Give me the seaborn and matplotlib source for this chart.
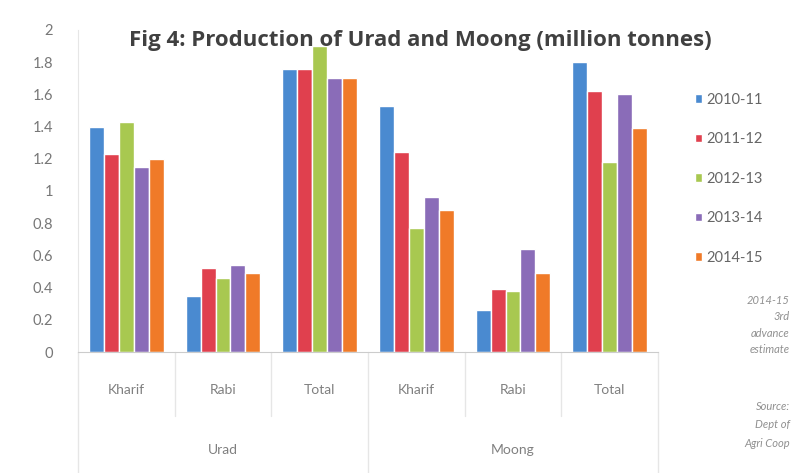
import pandas as pd
import matplotlib
matplotlib.use("Agg")
import matplotlib.pyplot as plt
import matplotlib.transforms as mtransforms
import seaborn as sns

# data (million tonnes)
crops = ["Urad", "Moong"]
seasons = ["Kharif", "Rabi", "Total"]
years = ["2010-11", "2011-12", "2012-13", "2013-14", "2014-15"]
urad_kharif = [1.40, 1.23, 1.43, 1.15, 1.20]
urad_rabi = [0.35, 0.52, 0.46, 0.54, 0.49]
urad_total = [1.76, 1.76, 1.90, 1.70, 1.70]
moong_kharif = [1.53, 1.24, 0.77, 0.96, 0.88]
moong_rabi = [0.26, 0.39, 0.38, 0.64, 0.49]
moong_total = [1.80, 1.62, 1.18, 1.60, 1.39]
colors = ["#4a8ad0", "#e0404e", "#a8c850", "#8a6cb8", "#f07a28"]

series = {
    ("Urad", "Kharif"): urad_kharif,
    ("Urad", "Rabi"): urad_rabi,
    ("Urad", "Total"): urad_total,
    ("Moong", "Kharif"): moong_kharif,
    ("Moong", "Rabi"): moong_rabi,
    ("Moong", "Total"): moong_total,
}
rows = []
for (crop, season), vals in series.items():
    for yr, v in zip(years, vals):
        rows.append({"cat": crop + "|" + season, "year": yr, "value": v})
df = pd.DataFrame(rows)
order = [c + "|" + s for c in crops for s in seasons]

sns.set_style("white")
plt.rcParams["font.family"] = ["Lato", "DejaVu Sans"]

fig = plt.figure(figsize=(7.93, 4.73), dpi=100)
ax = fig.add_axes([0.0984, 0.2558, 0.7314, 0.6808])
sns.barplot(data=df, x="cat", y="value", hue="year", order=order,
            hue_order=years, palette=colors, width=0.77, saturation=1,
            ax=ax, legend=True)

ax.set_ylim(0, 2)
ax.set_xlim(-0.5, 5.5)
ax.set_yticks([i / 5 for i in range(11)])
ax.set_yticklabels(["0", "0.2", "0.4", "0.6", "0.8", "1", "1.2", "1.4", "1.6", "1.8", "2"])
ax.tick_params(axis="y", length=0, pad=18, labelsize=10.5, labelcolor="#777777")
ax.set_xticks([])
ax.set_xlabel("")
ax.set_ylabel("")
for side in ["top", "right"]:
    ax.spines[side].set_visible(False)
ax.spines["left"].set_color("#e6e6e6")
ax.spines["bottom"].set_color("#cccccc")

# two-level category axis
trans = mtransforms.blended_transform_factory(ax.transData, ax.transAxes)
for i, cat in enumerate(order):
    ax.text(i, -0.118, cat.split("|")[1], transform=trans, ha="center",
            va="center", fontsize=10, color="#808080")
for b in [0.5, 1.5, 3.5, 4.5]:
    ax.plot([b, b], [0, -0.2], transform=trans, color="#e6e6e6",
            lw=1, clip_on=False)
for b in [-0.5, 2.5, 5.5]:
    ax.plot([b, b], [0, -0.38], transform=trans, color="#e6e6e6",
            lw=1, clip_on=False)
for j, crop in enumerate(crops):
    ax.text(1 + 3 * j, -0.304, crop, transform=trans, ha="center",
            va="center", fontsize=10, color="#808080")

fig.text(0.53, 0.915, "Fig 4: Production of Urad and Moong (million tonnes)",
         ha="center", va="center", fontsize=16, fontweight="bold",
         color="#404040", family=["Open Sans", "DejaVu Sans"])

leg = ax.legend(loc="upper left", bbox_to_anchor=(0.860, 0.832),
                bbox_transform=fig.transFigure, frameon=False,
                handlelength=0.5, handleheight=0.5, handletextpad=0.25,
                labelspacing=1.75, fontsize=10.5)
for t in leg.get_texts():
    t.set_color("#666666")

fig.text(0.996, 0.313, "2014-15\n3rd\nadvance\nestimate", ha="right",
         va="center", fontsize=8, style="italic", color="#909090",
         linespacing=1.6)
fig.text(0.996, 0.1015, "Source:\nDept of\nAgri Coop", ha="right",
         va="center", fontsize=8, style="italic", color="#909090",
         linespacing=1.8)

fig.savefig("out.png", dpi=100)
